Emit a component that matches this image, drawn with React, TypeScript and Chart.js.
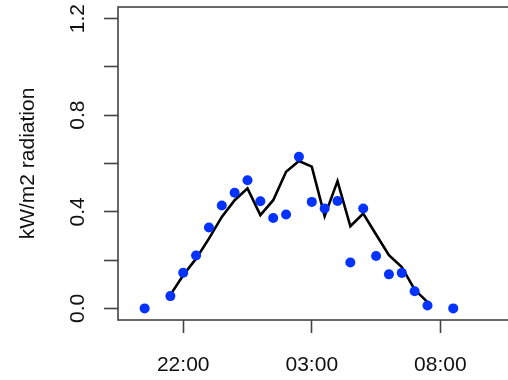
import React, { useEffect, useRef } from "react";
import { Chart, registerables } from "chart.js";

Chart.register(...registerables);

// Observed points (blue dots)
const pointTimes = [
  "20:30", "21:30", "22:00", "22:30", "23:00", "23:30", "00:00", "00:30",
  "01:00", "01:30", "02:00", "02:30", "03:00", "03:30", "04:00", "04:30",
  "05:00", "05:30", "06:00", "06:30", "07:00", "07:30", "08:30",
];
const pointValues = [
  0.0, 0.051, 0.148, 0.219, 0.335, 0.426, 0.479, 0.531,
  0.444, 0.374, 0.389, 0.628, 0.441, 0.414, 0.445, 0.19,
  0.414, 0.217, 0.141, 0.147, 0.071, 0.012, 0.0,
];

// Fitted / modelled line (black)
const lineTimes = [
  "21:30", "22:00", "22:30", "23:00", "23:30", "00:00", "00:30", "01:00",
  "01:30", "02:00", "02:30", "03:00", "03:30", "04:00", "04:30", "05:00",
  "05:30", "06:00", "06:30", "07:00", "07:30",
];
const lineValues = [
  0.056, 0.137, 0.206, 0.289, 0.379, 0.448, 0.497, 0.386,
  0.448, 0.566, 0.61, 0.587, 0.382, 0.527, 0.34, 0.393,
  0.306, 0.22, 0.171, 0.078, 0.026,
];

const xTickLabels = ["22:00", "03:00", "08:00"];
const yTickValues = [0, 0.2, 0.4, 0.6, 0.8, 1.0, 1.2];
const yLabeledTicks = [0, 0.4, 0.8, 1.2];
const yTitle = "kW/m2 radiation";

// hours since 20:00, crossing midnight
const toHours = (t: string) => {
  const [h, m] = t.split(":").map(Number);
  const hh = h < 12 ? h + 24 : h;
  return hh + m / 60 - 20;
};

const FONT = "'Liberation Sans', Arial, Helvetica, sans-serif";

export default function App() {
  const ref = useRef<HTMLCanvasElement | null>(null);

  useEffect(() => {
    if (!ref.current) return;
    const boxPlugin = {
      id: "rbox",
      beforeDatasetsDraw(chart: any) {
        const { ctx, chartArea } = chart;
        ctx.save();
        ctx.strokeStyle = "#444";
        ctx.lineWidth = 1.6;
        ctx.strokeRect(
          chartArea.left,
          chartArea.top,
          chartArea.right - chartArea.left,
          chartArea.bottom - chartArea.top
        );
        ctx.restore();
      },
    };

    const chart = new Chart(ref.current, {
      type: "scatter",
      data: {
        datasets: [
          {
            type: "scatter",
            label: "observed",
            data: pointTimes.map((t, i) => ({ x: toHours(t), y: pointValues[i] })),
            backgroundColor: "#0433ff",
            borderWidth: 0,
            pointRadius: 5,
            order: 0,
          },
          {
            type: "line",
            label: "model",
            data: lineTimes.map((t, i) => ({ x: toHours(t), y: lineValues[i] })),
            borderColor: "#000",
            borderWidth: 2.6,
            pointRadius: 0,
            fill: false,
            tension: 0,
            order: 1,
          } as any,
        ],
      },
      options: {
        animation: false,
        responsive: false,
        devicePixelRatio: 1,
        layout: { padding: { top: 7, left: 0, right: 0, bottom: 0 } },
        plugins: {
          legend: { display: false },
          tooltip: { enabled: false },
        },
        scales: {
          x: {
            type: "linear",
            position: "bottom",
            min: -0.536,
            max: 15.68,
            afterBuildTicks: (s: any) => {
              s.ticks = xTickLabels.map((l) => ({ value: toHours(l) }));
            },
            afterFit: (s: any) => {
              s.height = 60;
              s.paddingLeft = 0;
              s.paddingRight = 0;
              s.paddingTop = 0;
              s.paddingBottom = 0;
            },
            grid: {
              drawOnChartArea: false,
              drawTicks: true,
              tickLength: 13,
              tickColor: "#444",
              tickWidth: 1.6,
            },
            border: { display: false },
            ticks: {
              autoSkip: false,
              maxRotation: 0,
              padding: 20,
              color: "#111",
              font: { family: FONT, size: 21 },
              callback: (v: any) => {
                const idx = xTickLabels.findIndex((l) => Math.abs(toHours(l) - v) < 1e-6);
                return idx >= 0 ? xTickLabels[idx] : "";
              },
            },
          },
          y: {
            type: "linear",
            position: "left",
            min: -0.048,
            max: 1.248,
            afterBuildTicks: (s: any) => {
              s.ticks = yTickValues.map((v) => ({ value: v }));
            },
            afterFit: (s: any) => {
              s.width = 118;
              s.paddingLeft = 0;
              s.paddingRight = 0;
              s.paddingTop = 0;
              s.paddingBottom = 0;
            },
            grid: {
              drawOnChartArea: false,
              drawTicks: true,
              tickLength: 14,
              tickColor: "#444",
              tickWidth: 1.6,
            },
            border: { display: false },
            title: {
              display: true,
              text: yTitle,
              color: "#111",
              font: { family: FONT, size: 21 },
              padding: { top: 16, bottom: 0 },
            },
            ticks: {
              autoSkip: false,
              minRotation: 90,
              maxRotation: 90,
              crossAlign: "center",
              padding: 11,
              color: "#111",
              font: { family: FONT, size: 21 },
              callback: (v: any) =>
                yLabeledTicks.some((t) => Math.abs(t - v) < 1e-9) ? Number(v).toFixed(1) : "",
            },
          },
        },
      },
      plugins: [boxPlugin],
    } as any);
    return () => chart.destroy();
  }, []);

  return (
    <div
      style={{
        position: "absolute",
        left: 0,
        top: 0,
        width: 508,
        height: 380,
        overflow: "hidden",
        background: "#fff",
      }}
    >
      <canvas ref={ref} width={540} height={380} style={{ display: "block" }} />
    </div>
  );
}
